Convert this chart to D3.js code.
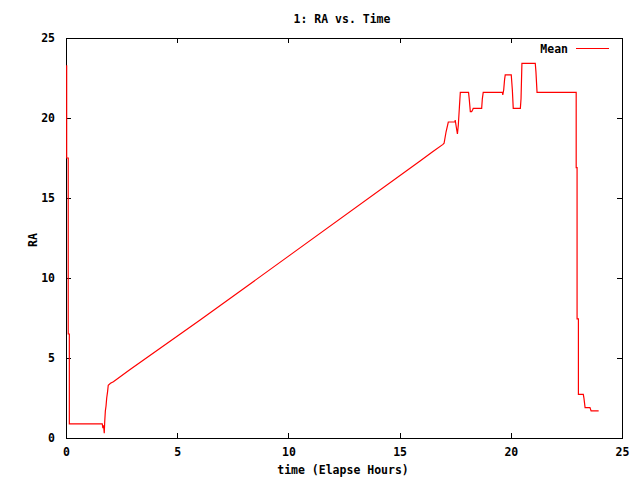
<!DOCTYPE html>
<html>
<head>
<meta charset="utf-8">
<script src="https://cdn.jsdelivr.net/npm/d3@7"></script>
<style>
  body { margin: 0; background: #fff; }
  svg { display: block; }
  text { font-family: "DejaVu Sans Mono", monospace; font-weight: bold; font-size: 11.5px; fill: #000; }
</style>
</head>
<body>
<svg id="chart" width="640" height="480"></svg>
<script>
// Data
const timeHours = [
  0.03, 0.03, 0.10, 0.10, 0.15, 0.15, 1.63, 1.66, 1.69, 1.72, 1.74, 1.77, 1.80, 1.83, 1.87, 1.90,
  2.00, 2.13, 2.85, 6.03, 10.07, 15.92, 16.50, 16.95, 17.00,
  17.09, 17.19, 17.49, 17.50, 17.57, 17.60, 17.64, 17.69, 17.73, 18.10, 18.13, 18.18, 18.24, 18.28, 18.31,
  18.69, 18.72, 18.76, 19.62, 19.64, 19.68, 19.72, 19.75, 20.02, 20.07, 20.11, 20.43, 20.46, 20.50,
  21.10, 21.13, 21.18, 22.94, 22.94, 22.98, 22.98, 23.04, 23.04, 23.26, 23.29, 23.34, 23.56, 23.61, 23.95
];
const raMean = [
  23.3, 17.5, 17.5, 6.5, 6.5, 0.88, 0.88, 0.62, 0.80, 0.30, 1.00, 1.70, 2.00, 2.50, 2.90, 3.30,
  3.42, 3.52, 4.25, 7.37, 11.43, 17.31, 17.90, 18.35, 18.42,
  19.14, 19.75, 19.75, 19.87, 19.25, 19.00, 19.56, 20.70, 21.60, 21.60, 21.20, 20.40, 20.40, 20.50, 20.60,
  20.60, 21.20, 21.60, 21.60, 21.45, 21.75, 22.40, 22.70, 22.70, 21.75, 20.60, 20.60, 21.20, 23.42,
  23.42, 22.90, 21.60, 21.60, 16.90, 16.90, 7.44, 7.44, 2.73, 2.73, 2.48, 1.90, 1.90, 1.69, 1.69
];
const xTicks = [0, 5, 10, 15, 20, 25];
const yTicks = [0, 5, 10, 15, 20, 25];
const seriesName = "Mean";
const titleText = "1: RA vs. Time";
const xLabelText = "time (Elapse Hours)";
const yLabelText = "RA";

const svg = d3.select("#chart");
const L = 66, R = 622, T = 38, B = 438;

const x = d3.scaleLinear().domain([0, 25]).range([L, R]);
const y = d3.scaleLinear().domain([0, 25]).range([B, T]);

// axes with inward ticks (gnuplot style)
const gx = svg.append("g").attr("transform", `translate(0,${B})`)
  .call(d3.axisBottom(x).tickValues(xTicks).tickSize(-5).tickSizeOuter(0).tickPadding(10).tickFormat(d3.format("d")));
const gy = svg.append("g").attr("transform", `translate(${L},0)`)
  .call(d3.axisLeft(y).tickValues(yTicks).tickSize(-5).tickSizeOuter(0).tickPadding(11).tickFormat(d3.format("d")));
const gxt = svg.append("g").attr("transform", `translate(0,${T})`)
  .call(d3.axisTop(x).tickValues(xTicks).tickSize(-5).tickSizeOuter(0).tickFormat(""));
const gyr = svg.append("g").attr("transform", `translate(${R},0)`)
  .call(d3.axisRight(y).tickValues(yTicks).tickSize(-5).tickSizeOuter(0).tickFormat(""));

[gx, gy, gxt, gyr].forEach(g => {
  g.selectAll(".domain").remove();
  g.selectAll("line").attr("stroke", "#000").attr("shape-rendering", "crispEdges");
  g.selectAll("text").attr("font-family", "DejaVu Sans Mono, monospace").attr("font-weight", "bold").attr("font-size", "11.5px").attr("fill", "#000");
});

// border
svg.append("rect").attr("x", L + 0.5).attr("y", T + 0.5).attr("width", R - L).attr("height", B - T)
  .attr("fill", "none").attr("stroke", "#000").attr("stroke-width", 1).attr("shape-rendering", "crispEdges");

// data line
const pts = timeHours.map((t, i) => [t, raMean[i]]);
const line = d3.line().x(d => x(d[0])).y(d => y(d[1]));
svg.append("path").datum(pts).attr("d", line)
  .attr("fill", "none").attr("stroke", "#ff0000").attr("stroke-width", 1.2);

// title and labels
svg.append("text").attr("x", 342).attr("y", 23).attr("text-anchor", "middle").text(titleText);
svg.append("text").attr("x", 343).attr("y", 474).attr("text-anchor", "middle").text(xLabelText);
svg.append("text").attr("transform", "translate(37,240) rotate(-90)").attr("text-anchor", "middle").text(yLabelText);

// legend
svg.append("text").attr("x", 568).attr("y", 53).attr("text-anchor", "end").text(seriesName);
svg.append("line").attr("x1", 576).attr("x2", 609).attr("y1", 48.5).attr("y2", 48.5)
  .attr("stroke", "#ff0000").attr("stroke-width", 1.2);
</script>
</body>
</html>
